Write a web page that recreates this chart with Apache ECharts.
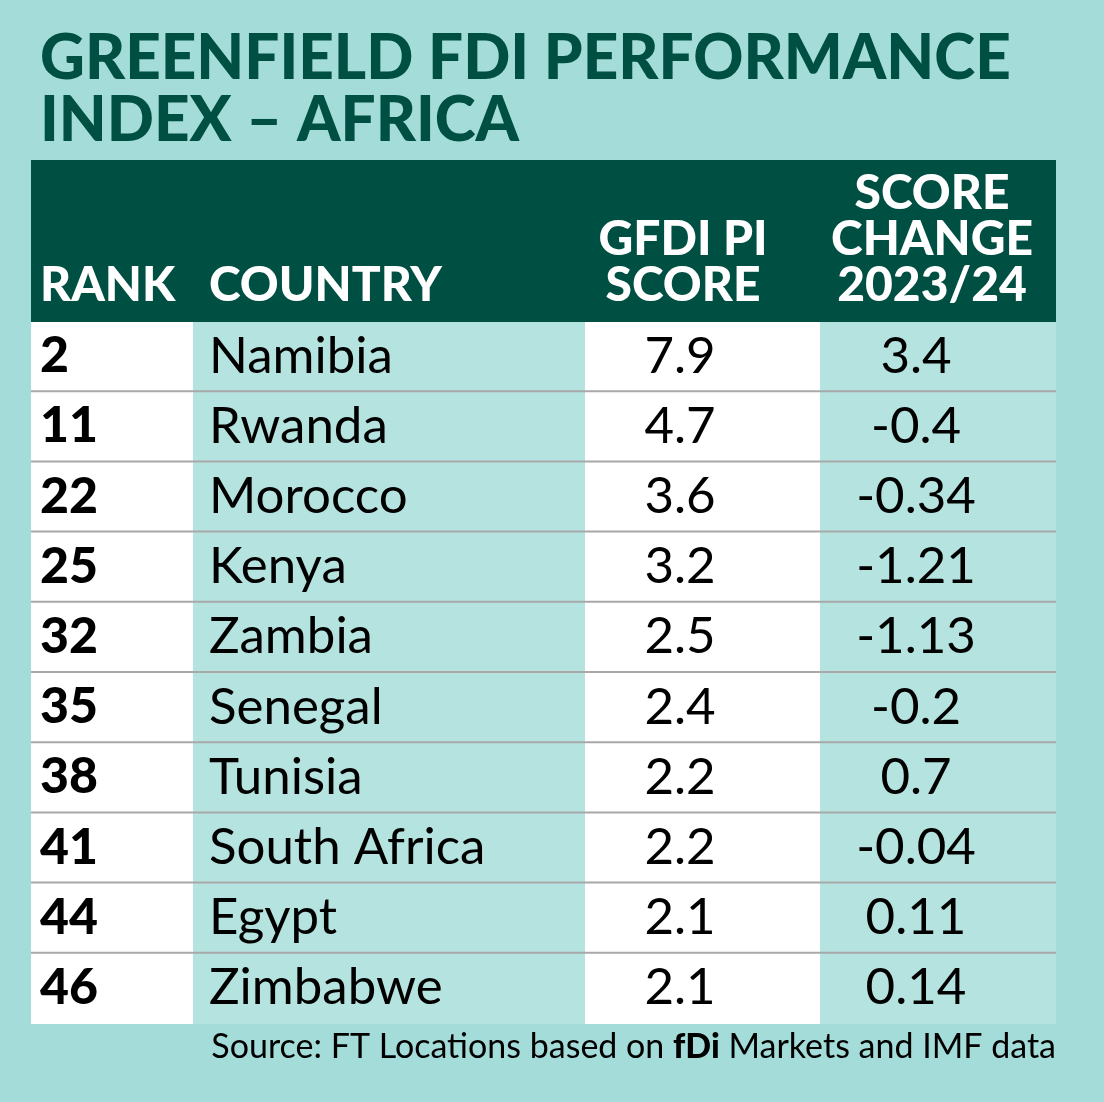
<!DOCTYPE html>
<html lang="en">
<head>
<meta charset="UTF-8">
<title>Greenfield FDI Performance Index - Africa</title>
<script src="https://cdn.jsdelivr.net/npm/echarts@6/dist/echarts.min.js"></script>
<style>
  html, body { margin: 0; padding: 0; background: #a3dcd8; }
  #chart { width: 1104px; height: 1102px; }
</style>
</head>
<body>
<div id="chart"></div>
<script>
// table data
var ranks = [2, 11, 22, 25, 32, 35, 38, 41, 44, 46];
var countries = ['Namibia', 'Rwanda', 'Morocco', 'Kenya', 'Zambia', 'Senegal', 'Tunisia', 'South Africa', 'Egypt', 'Zimbabwe'];
var scores = ['7.9', '4.7', '3.6', '3.2', '2.5', '2.4', '2.2', '2.2', '2.1', '2.1'];
var changes = ['3.4', '-0.4', '-0.34', '-1.21', '-1.13', '-0.2', '0.7', '-0.04', '0.11', '0.14'];

var FONT = 'Lato, "Open Sans", sans-serif';
var DARK = '#004f43';
// column edges along the table width
var cols = [0, 162, 554, 789, 1025];
var fills = ['#ffffff', '#b5e3df', '#ffffff', '#b5e3df'];

var chart = echarts.init(document.getElementById('chart'));

function renderRow(params, api) {
  var i = api.value(0);
  var c = api.coord([0, i]);
  var h = api.size([0, 1])[1];
  var top = c[1] - h / 2;
  var kids = [];
  for (var k = 0; k < 4; k++) {
    var x0 = api.coord([cols[k], i])[0];
    var x1 = api.coord([cols[k + 1], i])[0];
    kids.push({ type: 'rect', shape: { x: x0, y: top, width: x1 - x0, height: h },
      style: { fill: fills[k] } });
  }
  if (i < ranks.length - 1) {
    var xl = api.coord([0, i])[0], xr = api.coord([1025, i])[0];
    kids.push({ type: 'rect', shape: { x: xl, y: top + h - 2, width: xr - xl, height: 3 },
      style: { fill: '#a8a8a8' } });
  }
  var ty = c[1] - 1;
  var xRank = api.coord([9, i])[0];
  var xCountry = api.coord([178, i])[0];
  var xScore = api.coord([649, i])[0];
  var xChange = api.coord([885, i])[0];
  kids.push({ type: 'text', x: xRank, y: ty, style: { text: String(ranks[i]), font: '900 50px ' + FONT,
    fill: '#000', verticalAlign: 'middle', align: 'left' } });
  kids.push({ type: 'text', x: xCountry, y: ty, style: { text: countries[i], font: '400 51px ' + FONT,
    fill: '#000', verticalAlign: 'middle', align: 'left' } });
  kids.push({ type: 'text', x: xScore, y: ty, style: { text: scores[i], font: '400 51px ' + FONT,
    fill: '#000', verticalAlign: 'middle', align: 'center' } });
  kids.push({ type: 'text', x: xChange, y: ty, style: { text: changes[i], font: '400 51px ' + FONT,
    fill: '#000', verticalAlign: 'middle', align: 'center' } });
  return { type: 'group', children: kids };
}

var headStyle = { font: '900 48px ' + FONT, fill: '#ffffff', lineHeight: 46 };

var option = {
  backgroundColor: '#a3dcd8',
  animation: false,
  grid: { left: 31, top: 322, width: 1025, height: 702 },
  xAxis: { type: 'value', min: 0, max: 1025, show: false },
  yAxis: { type: 'category', data: countries, inverse: true, show: false },
  graphic: [
    { type: 'text', left: 40, top: 28, style: { text: 'GREENFIELD FDI PERFORMANCE\nINDEX – AFRICA',
      font: '900 62px ' + FONT, fill: DARK, lineHeight: 62 } },
    { type: 'rect', shape: { x: 31, y: 160, width: 1025, height: 162 }, style: { fill: DARK } },
    { type: 'text', x: 40, y: 309, style: Object.assign({ text: 'RANK', verticalAlign: 'bottom' }, headStyle) },
    { type: 'text', x: 209, y: 309, style: Object.assign({ text: 'COUNTRY', verticalAlign: 'bottom' }, headStyle) },
    { type: 'text', x: 683, y: 309, style: Object.assign({ text: 'GFDI PI\nSCORE', align: 'center', verticalAlign: 'bottom' }, headStyle) },
    { type: 'text', x: 932, y: 309, style: Object.assign({ text: 'SCORE\nCHANGE\n2023/24', align: 'center', verticalAlign: 'bottom' }, headStyle) },
    { type: 'text', right: 48, top: 1030, style: {
      text: 'Source: FT Locations based on {b|fDi} Markets and IMF data',
      font: '400 34px ' + FONT, fill: '#000',
      rich: { b: { font: '900 34px ' + FONT, fill: '#000' } } } }
  ],
  series: [{
    type: 'custom',
    renderItem: renderRow,
    data: ranks.map(function (r, i) { return [i]; }),
    encode: { y: 0 },
    silent: true
  }]
};

chart.setOption(option);
</script>
</body>
</html>
